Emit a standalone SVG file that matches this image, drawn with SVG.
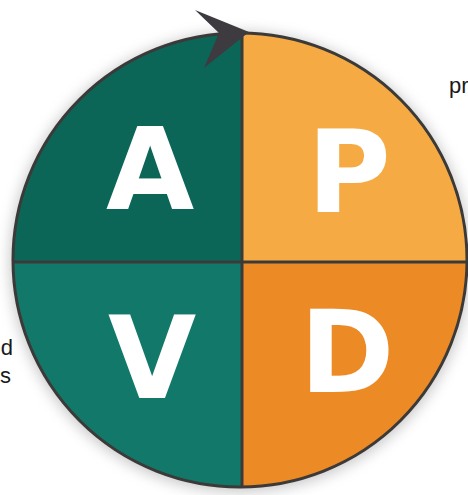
<svg xmlns="http://www.w3.org/2000/svg" width="468" height="495" viewBox="0 0 468 495">
  <defs>
    <clipPath id="disc"><circle cx="240" cy="260" r="227"/></clipPath>
    <filter id="shadow" x="-20%" y="-20%" width="140%" height="140%">
      <feGaussianBlur stdDeviation="7"/>
    </filter>
    <style>
      .letter { font-family: "DejaVu Sans", "Liberation Sans", Arial, sans-serif; font-weight: 700; font-size: 114px; fill: #ffffff; text-anchor: middle; }
      .side { font-family: "Liberation Sans", Arial, sans-serif; font-size: 22px; fill: #1a1a1a; }
      .div { stroke: #3b3a38; stroke-width: 3; }
    </style>
  </defs>
  <rect width="468" height="495" fill="#ffffff"/>
  <circle cx="240" cy="262" r="230" fill="#9a9a9a" opacity="0.55" filter="url(#shadow)"/>
  <g clip-path="url(#disc)">
    <g id="quadrant-A">
      <rect x="0" y="0" width="242" height="262" fill="#0c6658"/>
    </g>
    <g id="quadrant-P">
      <rect x="242" y="0" width="240" height="262" fill="#f6aa43"/>
    </g>
    <g id="quadrant-V">
      <rect x="0" y="262" width="242" height="240" fill="#12796a"/>
    </g>
    <g id="quadrant-D">
      <rect x="242" y="262" width="240" height="240" fill="#ec8a26"/>
    </g>
    <line class="div" x1="242" y1="0" x2="242" y2="495"/>
    <line class="div" x1="0" y1="262" x2="468" y2="262"/>
  </g>
  <circle cx="240" cy="260" r="227" fill="none" stroke="#3b3a38" stroke-width="3"/>
  <g id="labels">
    <text class="letter" x="150" y="209">A</text>
    <text class="letter" x="349" y="212">P</text>
    <text class="letter" x="152" y="398">V</text>
    <text class="letter" x="347" y="392">D</text>
  </g>
  <g id="connectors">
    <path d="M195 10 L249 32 L204 68 L219 33 Z" fill="#3d3a40"/>
  </g>
  <g id="side-text">
    <text class="side" x="449" y="93">pr</text>
    <text class="side" x="13" y="355" text-anchor="end">d</text>
    <text class="side" x="11" y="383" text-anchor="end">s</text>
  </g>
</svg>
